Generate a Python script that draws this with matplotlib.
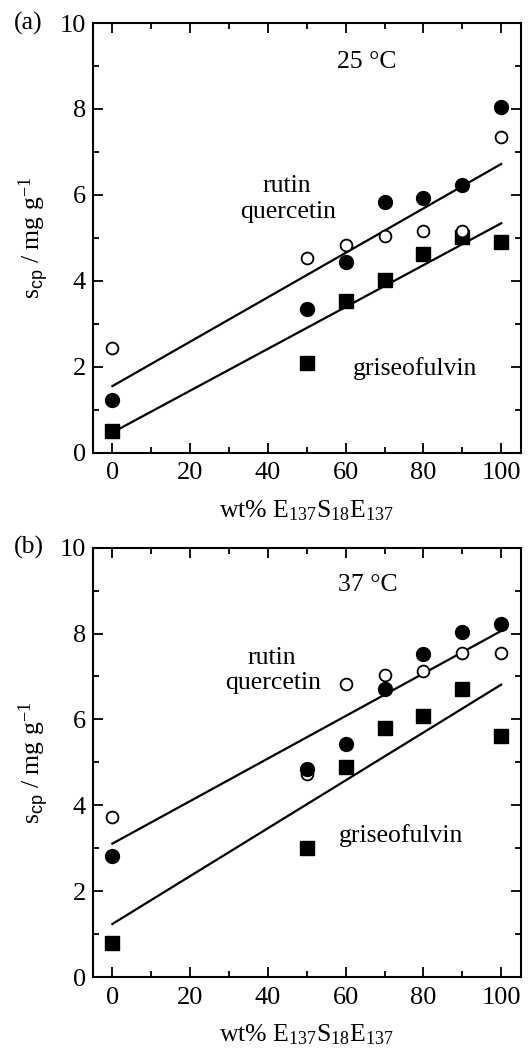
import matplotlib.pyplot as plt
import numpy as np

plt.rcParams['font.family'] = ['Liberation Serif', 'DejaVu Serif']
plt.rcParams['mathtext.fontset'] = 'custom'
plt.rcParams['mathtext.rm'] = 'Liberation Serif'
plt.rcParams['mathtext.it'] = 'Liberation Serif'
plt.rcParams['mathtext.sf'] = 'Liberation Sans'

# data
wt = [0, 50, 60, 70, 80, 90, 100]

# (a) 25 C
rutin_25 = [1.23, 3.34, 4.43, 5.83, 5.94, 6.22, 8.04]
querc_25 = [2.43, 4.54, 4.84, 5.04, 5.15, 5.16, 7.35]
grise_25 = [0.50, 2.10, 3.52, 4.02, 4.62, 5.03, 4.91]
fit_flav_25 = [1.55, 6.72]   # line values at wt = 0 and 100
fit_gris_25 = [0.47, 5.34]

# (b) 37 C
rutin_37 = [2.82, 4.84, 5.43, 6.72, 7.53, 8.04, 8.23]
querc_37 = [3.73, 4.74, 6.83, 7.04, 7.13, 7.55, 7.55]
grise_37 = [0.79, 3.00, 4.89, 5.80, 6.09, 6.70, 5.61]
fit_flav_37 = [3.11, 8.06]
fit_gris_37 = [1.24, 6.81]
fit_x = [0, 100]

panels = [
    dict(tag='(a)', temp='25 °C', r=rutin_25, q=querc_25, g=grise_25,
         f1=fit_flav_25, f2=fit_gris_25, tag_y=0.978,
         rut_xy=(44.8, 6.2), que_xy=(45.3, 5.6), gri_xy=(77.8, 1.96), t_xy=(65.4, 9.1)),
    dict(tag='(b)', temp='37 °C', r=rutin_37, q=querc_37, g=grise_37,
         f1=fit_flav_37, f2=fit_gris_37, tag_y=0.478,
         rut_xy=(41.1, 7.43), que_xy=(41.3, 6.85), gri_xy=(74.3, 3.30), t_xy=(65.6, 9.12)),
]

fig = plt.figure(figsize=(5.28, 10.48), dpi=100)
axes = [fig.add_axes([0.176, 0.568, 0.810, 0.410]),
        fig.add_axes([0.176, 0.0675, 0.810, 0.410])]

fs_tick = 19
fs = 18.5
for ax, p in zip(axes, panels):
    ax.plot(fit_x, p['f1'], color='black', lw=1.6, zorder=1)
    ax.plot(fit_x, p['f2'], color='black', lw=1.6, zorder=1)
    ax.plot(wt, p['q'], 'o', mfc='white', mec='black', mew=1.3, ms=8.5, zorder=3)
    ax.plot(wt, p['r'], 'o', color='black', ms=10, zorder=3)
    ax.plot(wt, p['g'], 's', color='black', ms=10.5, zorder=2)

    ax.set_xlim(-5, 105)
    ax.set_ylim(0, 10)
    ax.set_xticks(np.arange(0, 101, 20))
    ax.set_xticks(np.arange(10, 100, 20), minor=True)
    ax.set_yticks(np.arange(0, 11, 2))
    ax.set_yticks(np.arange(1, 10, 2), minor=True)
    ax.tick_params(which='both', direction='in', top=True, right=True, width=1.3,
                   labelsize=fs_tick)
    ax.tick_params(which='major', length=7)
    ax.tick_params(which='minor', length=4)
    ax.tick_params(axis='x', pad=7)
    ax.tick_params(axis='y', pad=5)
    for s in ax.spines.values():
        s.set_linewidth(1.5)

    ax.set_ylabel(r's$\mathregular{_{\mathsf{cp}}}$ / mg g$\mathregular{^{-1}}$', fontsize=fs, labelpad=6)
    ax.set_xlabel(r'wt% E$\mathregular{_{137}}$S$\mathregular{_{18}}$E$\mathregular{_{137}}$',
                  fontsize=fs, labelpad=10)

    ax.text(*p['t_xy'], p['temp'], fontsize=fs, ha='center', va='center')
    ax.text(*p['rut_xy'], 'rutin', fontsize=fs, ha='center', va='center')
    ax.text(*p['que_xy'], 'quercetin', fontsize=fs, ha='center', va='center')
    ax.text(*p['gri_xy'], 'griseofulvin', fontsize=fs, ha='center', va='center')
    fig.text(0.027, p['tag_y'], p['tag'], fontsize=fs, ha='left', va='center')

fig.savefig('out.png', dpi=100)
